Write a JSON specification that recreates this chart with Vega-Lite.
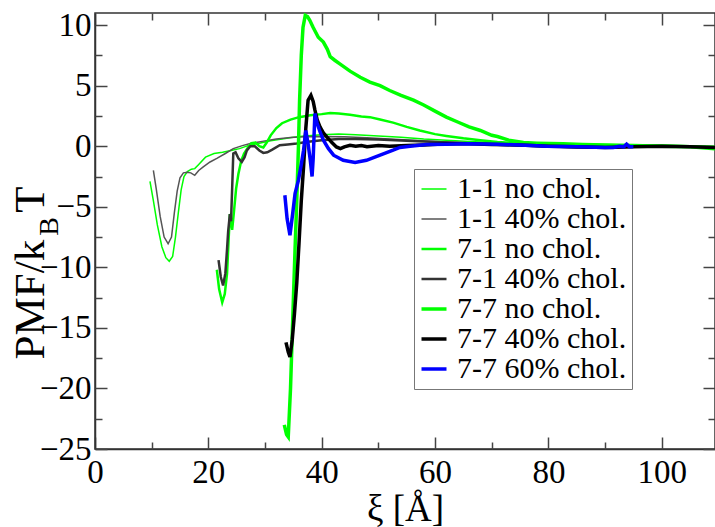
{
  "$schema": "https://vega.github.io/schema/vega-lite/v6.json",
  "width": 620,
  "height": 436,
  "autosize": {"type": "none"},
  "padding": {"left": 95, "top": 13, "right": 0, "bottom": 78},
  "background": "white",
  "config": {
    "view": {"stroke": "#333", "strokeWidth": 1.5},
    "font": "Liberation Serif",
    "axis": {
      "labelFont": "Liberation Serif",
      "titleFont": "Liberation Serif",
      "labelColor": "black",
      "titleColor": "black",
      "labelFontSize": 33,
      "titleFontSize": 37,
      "titleFontWeight": "normal",
      "domainColor": "#333",
      "domainWidth": 1.5,
      "tickColor": "#444",
      "tickWidth": 1.5,
      "zindex": 1,
      "grid": false
    },
    "legend": {"labelFont": "Liberation Serif"}
  },
  "data": {"values": [
    {"s":"1-1 no chol.","x":9.7,"y":-2.9},{"s":"1-1 no chol.","x":10.3,"y":-4.5},{"s":"1-1 no chol.","x":11,"y":-6.5},{"s":"1-1 no chol.","x":11.8,"y":-8.3},{"s":"1-1 no chol.","x":12.5,"y":-9.2},{"s":"1-1 no chol.","x":13.1,"y":-9.5},{"s":"1-1 no chol.","x":13.7,"y":-9.1},{"s":"1-1 no chol.","x":14.2,"y":-7.5},{"s":"1-1 no chol.","x":14.7,"y":-5.5},{"s":"1-1 no chol.","x":15.2,"y":-3.6},{"s":"1-1 no chol.","x":15.7,"y":-2.5},{"s":"1-1 no chol.","x":16.3,"y":-2.1},{"s":"1-1 no chol.","x":17,"y":-1.9},{"s":"1-1 no chol.","x":17.6,"y":-1.85},{"s":"1-1 no chol.","x":18.3,"y":-1.5},{"s":"1-1 no chol.","x":19.5,"y":-0.9},{"s":"1-1 no chol.","x":21,"y":-0.6},{"s":"1-1 no chol.","x":22.5,"y":-0.5},{"s":"1-1 no chol.","x":24,"y":-0.35},{"s":"1-1 no chol.","x":25.5,"y":-0.2},{"s":"1-1 no chol.","x":27,"y":0.05},{"s":"1-1 no chol.","x":29,"y":0.25},{"s":"1-1 no chol.","x":31,"y":0.45},{"s":"1-1 no chol.","x":33,"y":0.6},{"s":"1-1 no chol.","x":35,"y":0.75},{"s":"1-1 no chol.","x":37,"y":0.85},{"s":"1-1 no chol.","x":40,"y":0.95},{"s":"1-1 no chol.","x":43,"y":1.0},{"s":"1-1 no chol.","x":46,"y":0.95},{"s":"1-1 no chol.","x":50,"y":0.85},{"s":"1-1 no chol.","x":54,"y":0.75},{"s":"1-1 no chol.","x":58,"y":0.6},{"s":"1-1 no chol.","x":62,"y":0.5},{"s":"1-1 no chol.","x":66,"y":0.4},{"s":"1-1 no chol.","x":70,"y":0.3},{"s":"1-1 no chol.","x":75,"y":0.25},{"s":"1-1 no chol.","x":80,"y":0.2},{"s":"1-1 no chol.","x":85,"y":0.15},{"s":"1-1 no chol.","x":90,"y":0.1},{"s":"1-1 no chol.","x":95,"y":0.05},{"s":"1-1 no chol.","x":100,"y":0.0},{"s":"1-1 no chol.","x":105,"y":0.0},{"s":"1-1 no chol.","x":109.4,"y":-0.05},

    {"s":"1-1 40% chol.","x":10.3,"y":-2.0},{"s":"1-1 40% chol.","x":10.8,"y":-3.5},{"s":"1-1 40% chol.","x":11.5,"y":-5.8},{"s":"1-1 40% chol.","x":12.2,"y":-7.5},{"s":"1-1 40% chol.","x":12.9,"y":-8.05},{"s":"1-1 40% chol.","x":13.5,"y":-7.5},{"s":"1-1 40% chol.","x":14.0,"y":-5.5},{"s":"1-1 40% chol.","x":14.5,"y":-3.7},{"s":"1-1 40% chol.","x":15.0,"y":-2.6},{"s":"1-1 40% chol.","x":15.6,"y":-2.2},{"s":"1-1 40% chol.","x":16.3,"y":-2.15},{"s":"1-1 40% chol.","x":16.9,"y":-2.2},{"s":"1-1 40% chol.","x":17.6,"y":-2.4},{"s":"1-1 40% chol.","x":18.3,"y":-2.0},{"s":"1-1 40% chol.","x":19.1,"y":-1.7},{"s":"1-1 40% chol.","x":20.3,"y":-1.3},{"s":"1-1 40% chol.","x":21.5,"y":-1.0},{"s":"1-1 40% chol.","x":23,"y":-0.6},{"s":"1-1 40% chol.","x":24.4,"y":-0.2},{"s":"1-1 40% chol.","x":26,"y":0.05},{"s":"1-1 40% chol.","x":27.4,"y":0.22},{"s":"1-1 40% chol.","x":29.5,"y":0.4},{"s":"1-1 40% chol.","x":32,"y":0.6},{"s":"1-1 40% chol.","x":34.5,"y":0.72},{"s":"1-1 40% chol.","x":37,"y":0.78},{"s":"1-1 40% chol.","x":40,"y":0.8},{"s":"1-1 40% chol.","x":44,"y":0.78},{"s":"1-1 40% chol.","x":48,"y":0.7},{"s":"1-1 40% chol.","x":52,"y":0.6},{"s":"1-1 40% chol.","x":56,"y":0.5},{"s":"1-1 40% chol.","x":60,"y":0.4},{"s":"1-1 40% chol.","x":65,"y":0.3},{"s":"1-1 40% chol.","x":70,"y":0.2},{"s":"1-1 40% chol.","x":75,"y":0.1},{"s":"1-1 40% chol.","x":80,"y":0.05},{"s":"1-1 40% chol.","x":85,"y":-0.05},{"s":"1-1 40% chol.","x":88,"y":-0.15},{"s":"1-1 40% chol.","x":92,"y":-0.05},{"s":"1-1 40% chol.","x":96,"y":0.0},{"s":"1-1 40% chol.","x":100,"y":-0.05},{"s":"1-1 40% chol.","x":105,"y":-0.1},{"s":"1-1 40% chol.","x":109.4,"y":-0.1},

    {"s":"7-1 no chol.","x":21.5,"y":-10.2},{"s":"7-1 no chol.","x":21.9,"y":-11.8},{"s":"7-1 no chol.","x":22.45,"y":-12.9},{"s":"7-1 no chol.","x":22.9,"y":-12.2},{"s":"7-1 no chol.","x":23.3,"y":-10.5},{"s":"7-1 no chol.","x":23.6,"y":-7.5},{"s":"7-1 no chol.","x":23.8,"y":-5.6},{"s":"7-1 no chol.","x":24.2,"y":-6.9},{"s":"7-1 no chol.","x":24.5,"y":-5.5},{"s":"7-1 no chol.","x":24.9,"y":-3.5},{"s":"7-1 no chol.","x":25.3,"y":-2.3},{"s":"7-1 no chol.","x":25.8,"y":-1.2},{"s":"7-1 no chol.","x":26.3,"y":-0.6},{"s":"7-1 no chol.","x":27,"y":-0.1},{"s":"7-1 no chol.","x":27.6,"y":0.25},{"s":"7-1 no chol.","x":28.3,"y":0.3},{"s":"7-1 no chol.","x":29,"y":0.0},{"s":"7-1 no chol.","x":29.7,"y":-0.1},{"s":"7-1 no chol.","x":30.3,"y":0.3},{"s":"7-1 no chol.","x":31,"y":0.9},{"s":"7-1 no chol.","x":32,"y":1.5},{"s":"7-1 no chol.","x":33,"y":1.9},{"s":"7-1 no chol.","x":34.5,"y":2.2},{"s":"7-1 no chol.","x":36,"y":2.4},{"s":"7-1 no chol.","x":38,"y":2.55},{"s":"7-1 no chol.","x":40,"y":2.65},{"s":"7-1 no chol.","x":41.5,"y":2.75},{"s":"7-1 no chol.","x":43,"y":2.7},{"s":"7-1 no chol.","x":45,"y":2.6},{"s":"7-1 no chol.","x":47,"y":2.45},{"s":"7-1 no chol.","x":48.5,"y":2.4},{"s":"7-1 no chol.","x":50.3,"y":2.2},{"s":"7-1 no chol.","x":52.6,"y":1.95},{"s":"7-1 no chol.","x":55,"y":1.6},{"s":"7-1 no chol.","x":57.3,"y":1.3},{"s":"7-1 no chol.","x":60,"y":1.0},{"s":"7-1 no chol.","x":62,"y":0.85},{"s":"7-1 no chol.","x":65,"y":0.65},{"s":"7-1 no chol.","x":68,"y":0.5},{"s":"7-1 no chol.","x":71,"y":0.35},{"s":"7-1 no chol.","x":75,"y":0.25},{"s":"7-1 no chol.","x":80,"y":0.2},{"s":"7-1 no chol.","x":85,"y":0.15},{"s":"7-1 no chol.","x":90,"y":0.1},{"s":"7-1 no chol.","x":95,"y":0.05},{"s":"7-1 no chol.","x":100,"y":0.05},{"s":"7-1 no chol.","x":105,"y":0.0},{"s":"7-1 no chol.","x":109.4,"y":-0.05},

    {"s":"7-1 40% chol.","x":21.8,"y":-9.4},{"s":"7-1 40% chol.","x":22.2,"y":-10.8},{"s":"7-1 40% chol.","x":22.6,"y":-11.5},{"s":"7-1 40% chol.","x":23.0,"y":-10.5},{"s":"7-1 40% chol.","x":23.3,"y":-8.5},{"s":"7-1 40% chol.","x":23.5,"y":-7.0},{"s":"7-1 40% chol.","x":23.8,"y":-5.6},{"s":"7-1 40% chol.","x":24.0,"y":-6.2},{"s":"7-1 40% chol.","x":24.2,"y":-3.5},{"s":"7-1 40% chol.","x":24.4,"y":-0.6},{"s":"7-1 40% chol.","x":24.8,"y":-0.5},{"s":"7-1 40% chol.","x":25.3,"y":-1.0},{"s":"7-1 40% chol.","x":25.9,"y":-1.3},{"s":"7-1 40% chol.","x":26.4,"y":-0.9},{"s":"7-1 40% chol.","x":26.8,"y":-0.35},{"s":"7-1 40% chol.","x":27.4,"y":0.0},{"s":"7-1 40% chol.","x":28.2,"y":0.0},{"s":"7-1 40% chol.","x":29,"y":-0.35},{"s":"7-1 40% chol.","x":29.7,"y":-0.55},{"s":"7-1 40% chol.","x":30.4,"y":-0.5},{"s":"7-1 40% chol.","x":31.2,"y":-0.3},{"s":"7-1 40% chol.","x":32.6,"y":0.08},{"s":"7-1 40% chol.","x":34,"y":0.15},{"s":"7-1 40% chol.","x":35.6,"y":0.22},{"s":"7-1 40% chol.","x":37.6,"y":0.36},{"s":"7-1 40% chol.","x":40,"y":0.5},{"s":"7-1 40% chol.","x":43,"y":0.6},{"s":"7-1 40% chol.","x":46,"y":0.6},{"s":"7-1 40% chol.","x":50,"y":0.55},{"s":"7-1 40% chol.","x":55,"y":0.45},{"s":"7-1 40% chol.","x":60,"y":0.35},{"s":"7-1 40% chol.","x":65,"y":0.25},{"s":"7-1 40% chol.","x":70,"y":0.15},{"s":"7-1 40% chol.","x":75,"y":0.05},{"s":"7-1 40% chol.","x":80,"y":0.0},{"s":"7-1 40% chol.","x":85,"y":-0.1},{"s":"7-1 40% chol.","x":90,"y":-0.1},{"s":"7-1 40% chol.","x":95,"y":-0.05},{"s":"7-1 40% chol.","x":100,"y":0.0},{"s":"7-1 40% chol.","x":105,"y":-0.05},{"s":"7-1 40% chol.","x":109.4,"y":-0.1},

    {"s":"7-7 no chol.","x":33.4,"y":-23.0},{"s":"7-7 no chol.","x":33.8,"y":-23.8},{"s":"7-7 no chol.","x":34.1,"y":-24.0},{"s":"7-7 no chol.","x":34.5,"y":-20},{"s":"7-7 no chol.","x":35,"y":-12.7},{"s":"7-7 no chol.","x":35.3,"y":-8.5},{"s":"7-7 no chol.","x":35.6,"y":-4.5},{"s":"7-7 no chol.","x":35.9,"y":0},{"s":"7-7 no chol.","x":36.1,"y":3.8},{"s":"7-7 no chol.","x":36.4,"y":7.5},{"s":"7-7 no chol.","x":36.7,"y":9.8},{"s":"7-7 no chol.","x":37.1,"y":10.8},{"s":"7-7 no chol.","x":37.5,"y":10.7},{"s":"7-7 no chol.","x":37.9,"y":10.4},{"s":"7-7 no chol.","x":38.5,"y":9.8},{"s":"7-7 no chol.","x":39.4,"y":9.0},{"s":"7-7 no chol.","x":40.3,"y":8.6},{"s":"7-7 no chol.","x":41,"y":8.0},{"s":"7-7 no chol.","x":41.5,"y":7.4},{"s":"7-7 no chol.","x":42.3,"y":7.1},{"s":"7-7 no chol.","x":43.2,"y":6.8},{"s":"7-7 no chol.","x":45,"y":6.2},{"s":"7-7 no chol.","x":46.8,"y":5.7},{"s":"7-7 no chol.","x":48.5,"y":5.3},{"s":"7-7 no chol.","x":50.3,"y":5.0},{"s":"7-7 no chol.","x":52,"y":4.6},{"s":"7-7 no chol.","x":54,"y":4.2},{"s":"7-7 no chol.","x":56.2,"y":3.8},{"s":"7-7 no chol.","x":58,"y":3.4},{"s":"7-7 no chol.","x":60,"y":2.9},{"s":"7-7 no chol.","x":62,"y":2.4},{"s":"7-7 no chol.","x":64,"y":2.0},{"s":"7-7 no chol.","x":66,"y":1.6},{"s":"7-7 no chol.","x":68,"y":1.3},{"s":"7-7 no chol.","x":70,"y":0.9},{"s":"7-7 no chol.","x":71,"y":0.8},{"s":"7-7 no chol.","x":73,"y":0.5},{"s":"7-7 no chol.","x":75.6,"y":0.3},{"s":"7-7 no chol.","x":78,"y":0.25},{"s":"7-7 no chol.","x":82.6,"y":0.2},{"s":"7-7 no chol.","x":86,"y":0.15},{"s":"7-7 no chol.","x":90,"y":0.1},{"s":"7-7 no chol.","x":95,"y":0.05},{"s":"7-7 no chol.","x":100,"y":0.0},{"s":"7-7 no chol.","x":105,"y":-0.05},{"s":"7-7 no chol.","x":109.4,"y":-0.2},

    {"s":"7-7 40% chol.","x":33.7,"y":-16.2},{"s":"7-7 40% chol.","x":34.1,"y":-17.0},{"s":"7-7 40% chol.","x":34.4,"y":-17.4},{"s":"7-7 40% chol.","x":34.8,"y":-16.0},{"s":"7-7 40% chol.","x":35.2,"y":-13.8},{"s":"7-7 40% chol.","x":35.6,"y":-11.3},{"s":"7-7 40% chol.","x":36.0,"y":-8.0},{"s":"7-7 40% chol.","x":36.4,"y":-4.5},{"s":"7-7 40% chol.","x":36.8,"y":-1.7},{"s":"7-7 40% chol.","x":37.2,"y":1.5},{"s":"7-7 40% chol.","x":37.6,"y":3.8},{"s":"7-7 40% chol.","x":38.1,"y":4.2},{"s":"7-7 40% chol.","x":38.5,"y":3.7},{"s":"7-7 40% chol.","x":38.8,"y":3.0},{"s":"7-7 40% chol.","x":39.2,"y":2.2},{"s":"7-7 40% chol.","x":39.7,"y":1.6},{"s":"7-7 40% chol.","x":40.3,"y":1.1},{"s":"7-7 40% chol.","x":40.9,"y":0.77},{"s":"7-7 40% chol.","x":41.8,"y":0.3},{"s":"7-7 40% chol.","x":42.6,"y":-0.06},{"s":"7-7 40% chol.","x":43.3,"y":-0.2},{"s":"7-7 40% chol.","x":44,"y":-0.05},{"s":"7-7 40% chol.","x":45,"y":0.08},{"s":"7-7 40% chol.","x":46,"y":0.0},{"s":"7-7 40% chol.","x":47,"y":0.05},{"s":"7-7 40% chol.","x":48,"y":-0.05},{"s":"7-7 40% chol.","x":50,"y":0.05},{"s":"7-7 40% chol.","x":52,"y":0.0},{"s":"7-7 40% chol.","x":55,"y":0.05},{"s":"7-7 40% chol.","x":58,"y":0.1},{"s":"7-7 40% chol.","x":62,"y":0.2},{"s":"7-7 40% chol.","x":66,"y":0.2},{"s":"7-7 40% chol.","x":70,"y":0.15},{"s":"7-7 40% chol.","x":75,"y":0.1},{"s":"7-7 40% chol.","x":80,"y":0.0},{"s":"7-7 40% chol.","x":85,"y":-0.05},{"s":"7-7 40% chol.","x":90,"y":-0.1},{"s":"7-7 40% chol.","x":95,"y":-0.05},{"s":"7-7 40% chol.","x":100,"y":0.0},{"s":"7-7 40% chol.","x":105,"y":-0.05},{"s":"7-7 40% chol.","x":109.4,"y":-0.1},

    {"s":"7-7 60% chol.","x":33.5,"y":-4.05},{"s":"7-7 60% chol.","x":33.9,"y":-6.0},{"s":"7-7 60% chol.","x":34.4,"y":-7.35},{"s":"7-7 60% chol.","x":34.9,"y":-5.5},{"s":"7-7 60% chol.","x":35.3,"y":-3.9},{"s":"7-7 60% chol.","x":35.9,"y":-2.8},{"s":"7-7 60% chol.","x":36.4,"y":-1.5},{"s":"7-7 60% chol.","x":36.8,"y":-0.33},{"s":"7-7 60% chol.","x":37.2,"y":1.3},{"s":"7-7 60% chol.","x":37.6,"y":0.2},{"s":"7-7 60% chol.","x":38.0,"y":-1.2},{"s":"7-7 60% chol.","x":38.3,"y":-2.5},{"s":"7-7 60% chol.","x":38.5,"y":-1.0},{"s":"7-7 60% chol.","x":38.8,"y":2.7},{"s":"7-7 60% chol.","x":39.2,"y":1.9},{"s":"7-7 60% chol.","x":39.7,"y":1.2},{"s":"7-7 60% chol.","x":40.3,"y":0.5},{"s":"7-7 60% chol.","x":41.2,"y":-0.2},{"s":"7-7 60% chol.","x":42.1,"y":-0.74},{"s":"7-7 60% chol.","x":43.8,"y":-1.16},{"s":"7-7 60% chol.","x":45.9,"y":-1.35},{"s":"7-7 60% chol.","x":47.9,"y":-1.16},{"s":"7-7 60% chol.","x":50.3,"y":-0.74},{"s":"7-7 60% chol.","x":52.6,"y":-0.33},{"s":"7-7 60% chol.","x":53.8,"y":-0.1},{"s":"7-7 60% chol.","x":55.6,"y":0.0},{"s":"7-7 60% chol.","x":58.5,"y":0.15},{"s":"7-7 60% chol.","x":62,"y":0.17},{"s":"7-7 60% chol.","x":66,"y":0.2},{"s":"7-7 60% chol.","x":70.9,"y":0.17},{"s":"7-7 60% chol.","x":75,"y":0.1},{"s":"7-7 60% chol.","x":79.7,"y":0.0},{"s":"7-7 60% chol.","x":85,"y":-0.05},{"s":"7-7 60% chol.","x":90,"y":-0.1},{"s":"7-7 60% chol.","x":91.5,"y":-0.1},{"s":"7-7 60% chol.","x":92.5,"y":0.0},{"s":"7-7 60% chol.","x":93.3,"y":-0.05},{"s":"7-7 60% chol.","x":93.8,"y":0.17},{"s":"7-7 60% chol.","x":94.3,"y":-0.05},{"s":"7-7 60% chol.","x":95,"y":-0.05}
  ]},
  "resolve": {"axis": {"x": "independent", "y": "independent"}},
  "layer": [
    {
      "mark": {"type": "line", "clip": true},
      "encoding": {
        "x": {
          "field": "x", "type": "quantitative",
          "scale": {"domain": [0, 109.4], "nice": false, "zero": false},
          "axis": {
            "orient": "bottom",
            "values": [0,20,40,60,80,100],
            "ticks": false, "tickSize": 0,
            "labelPadding": 7,
            "labelFlush": false,
            "labelFont": "Liberation Serif",
            "title": "ξ [Å]",
            "titlePadding": 2
          }
        },
        "y": {
          "field": "y", "type": "quantitative",
          "scale": {"domain": [-25, 11], "nice": false, "zero": false},
          "axis": {
            "orient": "left",
            "values": [-25,-20,-15,-10,-5,0,5,10],
            "ticks": false, "tickSize": 0,
            "labelPadding": 4,
            "labelFlush": false,
            "labelFont": "Liberation Serif",
            "title": null
          }
        },
        "color": {
          "field": "s", "type": "nominal",
          "scale": {
            "domain": ["1-1 no chol.","1-1 40% chol.","7-1 no chol.","7-1 40% chol.","7-7 no chol.","7-7 40% chol.","7-7 60% chol."],
            "range": ["#00ff00","#555555","#00ff00","#333333","#00ff00","#000000","#0000ff"]
          },
          "legend": {
            "orient": "none", "legendX": 319, "legendY": 156,
            "title": null,
            "symbolType": "stroke", "symbolSize": 625,
            "labelFont": "Liberation Serif", "labelFontSize": 30, "labelColor": "black", "labelLimit": 0,
            "labelOffset": 8, "rowPadding": 0,
            "padding": 5,
            "strokeColor": "#777", "fillColor": "white"
          }
        },
        "strokeWidth": {
          "field": "s", "type": "ordinal",
          "scale": {
            "type": "ordinal",
            "domain": ["1-1 no chol.","1-1 40% chol.","7-1 no chol.","7-1 40% chol.","7-7 no chol.","7-7 40% chol.","7-7 60% chol."],
            "range": [1.5, 1.5, 2.5, 2.5, 3.5, 3.5, 3.5]
          },
          "legend": {
            "orient": "none", "legendX": 319, "legendY": 156,
            "title": null,
            "symbolType": "stroke", "symbolSize": 625,
            "labelFont": "Liberation Serif", "labelFontSize": 30, "labelColor": "black", "labelLimit": 0,
            "labelOffset": 8, "rowPadding": 0,
            "padding": 5,
            "strokeColor": "#777", "fillColor": "white"
          }
        }
      }
    },
    {
      "data": {"values": [{}]},
      "mark": {"type": "point", "opacity": 0},
      "encoding": {
        "x": {"datum": 0, "type": "quantitative", "axis": {"orient": "top", "values": [0,20,40,60,80,100], "labels": false, "domain": false, "title": null, "tickSize": 12, "offset": -12}},
        "y": {"datum": 0, "type": "quantitative", "axis": {"orient": "right", "values": [-25,-20,-15,-10,-5,0,5,10], "labels": false, "domain": false, "title": null, "tickSize": 12, "offset": -12}}
      }
    },
    {
      "data": {"values": [{}]},
      "mark": {"type": "point", "opacity": 0},
      "encoding": {
        "x": {"datum": 0, "type": "quantitative", "axis": {"orient": "bottom", "values": [0,20,40,60,80,100], "labels": false, "domain": false, "title": null, "tickSize": 12, "offset": -12}},
        "y": {"datum": 0, "type": "quantitative", "axis": {"orient": "left", "values": [-25,-20,-15,-10,-5,0,5,10], "labels": false, "domain": false, "title": null, "tickSize": 12, "offset": -12}}
      }
    },
    {
      "data": {"values": [{}]},
      "mark": {"type": "point", "opacity": 0},
      "encoding": {
        "x": {"datum": 0, "type": "quantitative", "axis": {"orient": "top", "values": [10,30,50,70,90], "labels": false, "domain": false, "title": null, "tickSize": 7, "offset": -7}},
        "y": {"datum": 0, "type": "quantitative", "axis": {"orient": "right", "values": [-22.5,-17.5,-12.5,-7.5,-2.5,2.5,7.5], "labels": false, "domain": false, "title": null, "tickSize": 7, "offset": -7}}
      }
    },
    {
      "data": {"values": [{}]},
      "mark": {"type": "point", "opacity": 0},
      "encoding": {
        "x": {"datum": 0, "type": "quantitative", "axis": {"orient": "bottom", "values": [10,30,50,70,90], "labels": false, "domain": false, "title": null, "tickSize": 7, "offset": -7}},
        "y": {"datum": 0, "type": "quantitative", "axis": {"orient": "left", "values": [-22.5,-17.5,-12.5,-7.5,-2.5,2.5,7.5], "labels": false, "domain": false, "title": null, "tickSize": 7, "offset": -7}}
      }
    },
    {
      "data": {"values": [{}]},
      "mark": {"type": "text", "text": "PMF/k", "angle": 270, "align": "left", "baseline": "alphabetic", "font": "Liberation Serif", "fontSize": 43, "color": "black"},
      "encoding": {
        "x": {"datum": -9.0, "type": "quantitative", "axis": null},
        "y": {"datum": -17.6, "type": "quantitative", "axis": null}
      }
    },
    {
      "data": {"values": [{}]},
      "mark": {"type": "text", "text": "B", "angle": 270, "align": "left", "baseline": "alphabetic", "font": "Liberation Serif", "fontSize": 28, "color": "black"},
      "encoding": {
        "x": {"datum": -6.6, "type": "quantitative", "axis": null},
        "y": {"datum": -7.4, "type": "quantitative", "axis": null}
      }
    },
    {
      "data": {"values": [{}]},
      "mark": {"type": "text", "text": "T", "angle": 270, "align": "left", "baseline": "alphabetic", "font": "Liberation Serif", "fontSize": 43, "color": "black"},
      "encoding": {
        "x": {"datum": -9.0, "type": "quantitative", "axis": null},
        "y": {"datum": -5.5, "type": "quantitative", "axis": null}
      }
    }
  ]
}
